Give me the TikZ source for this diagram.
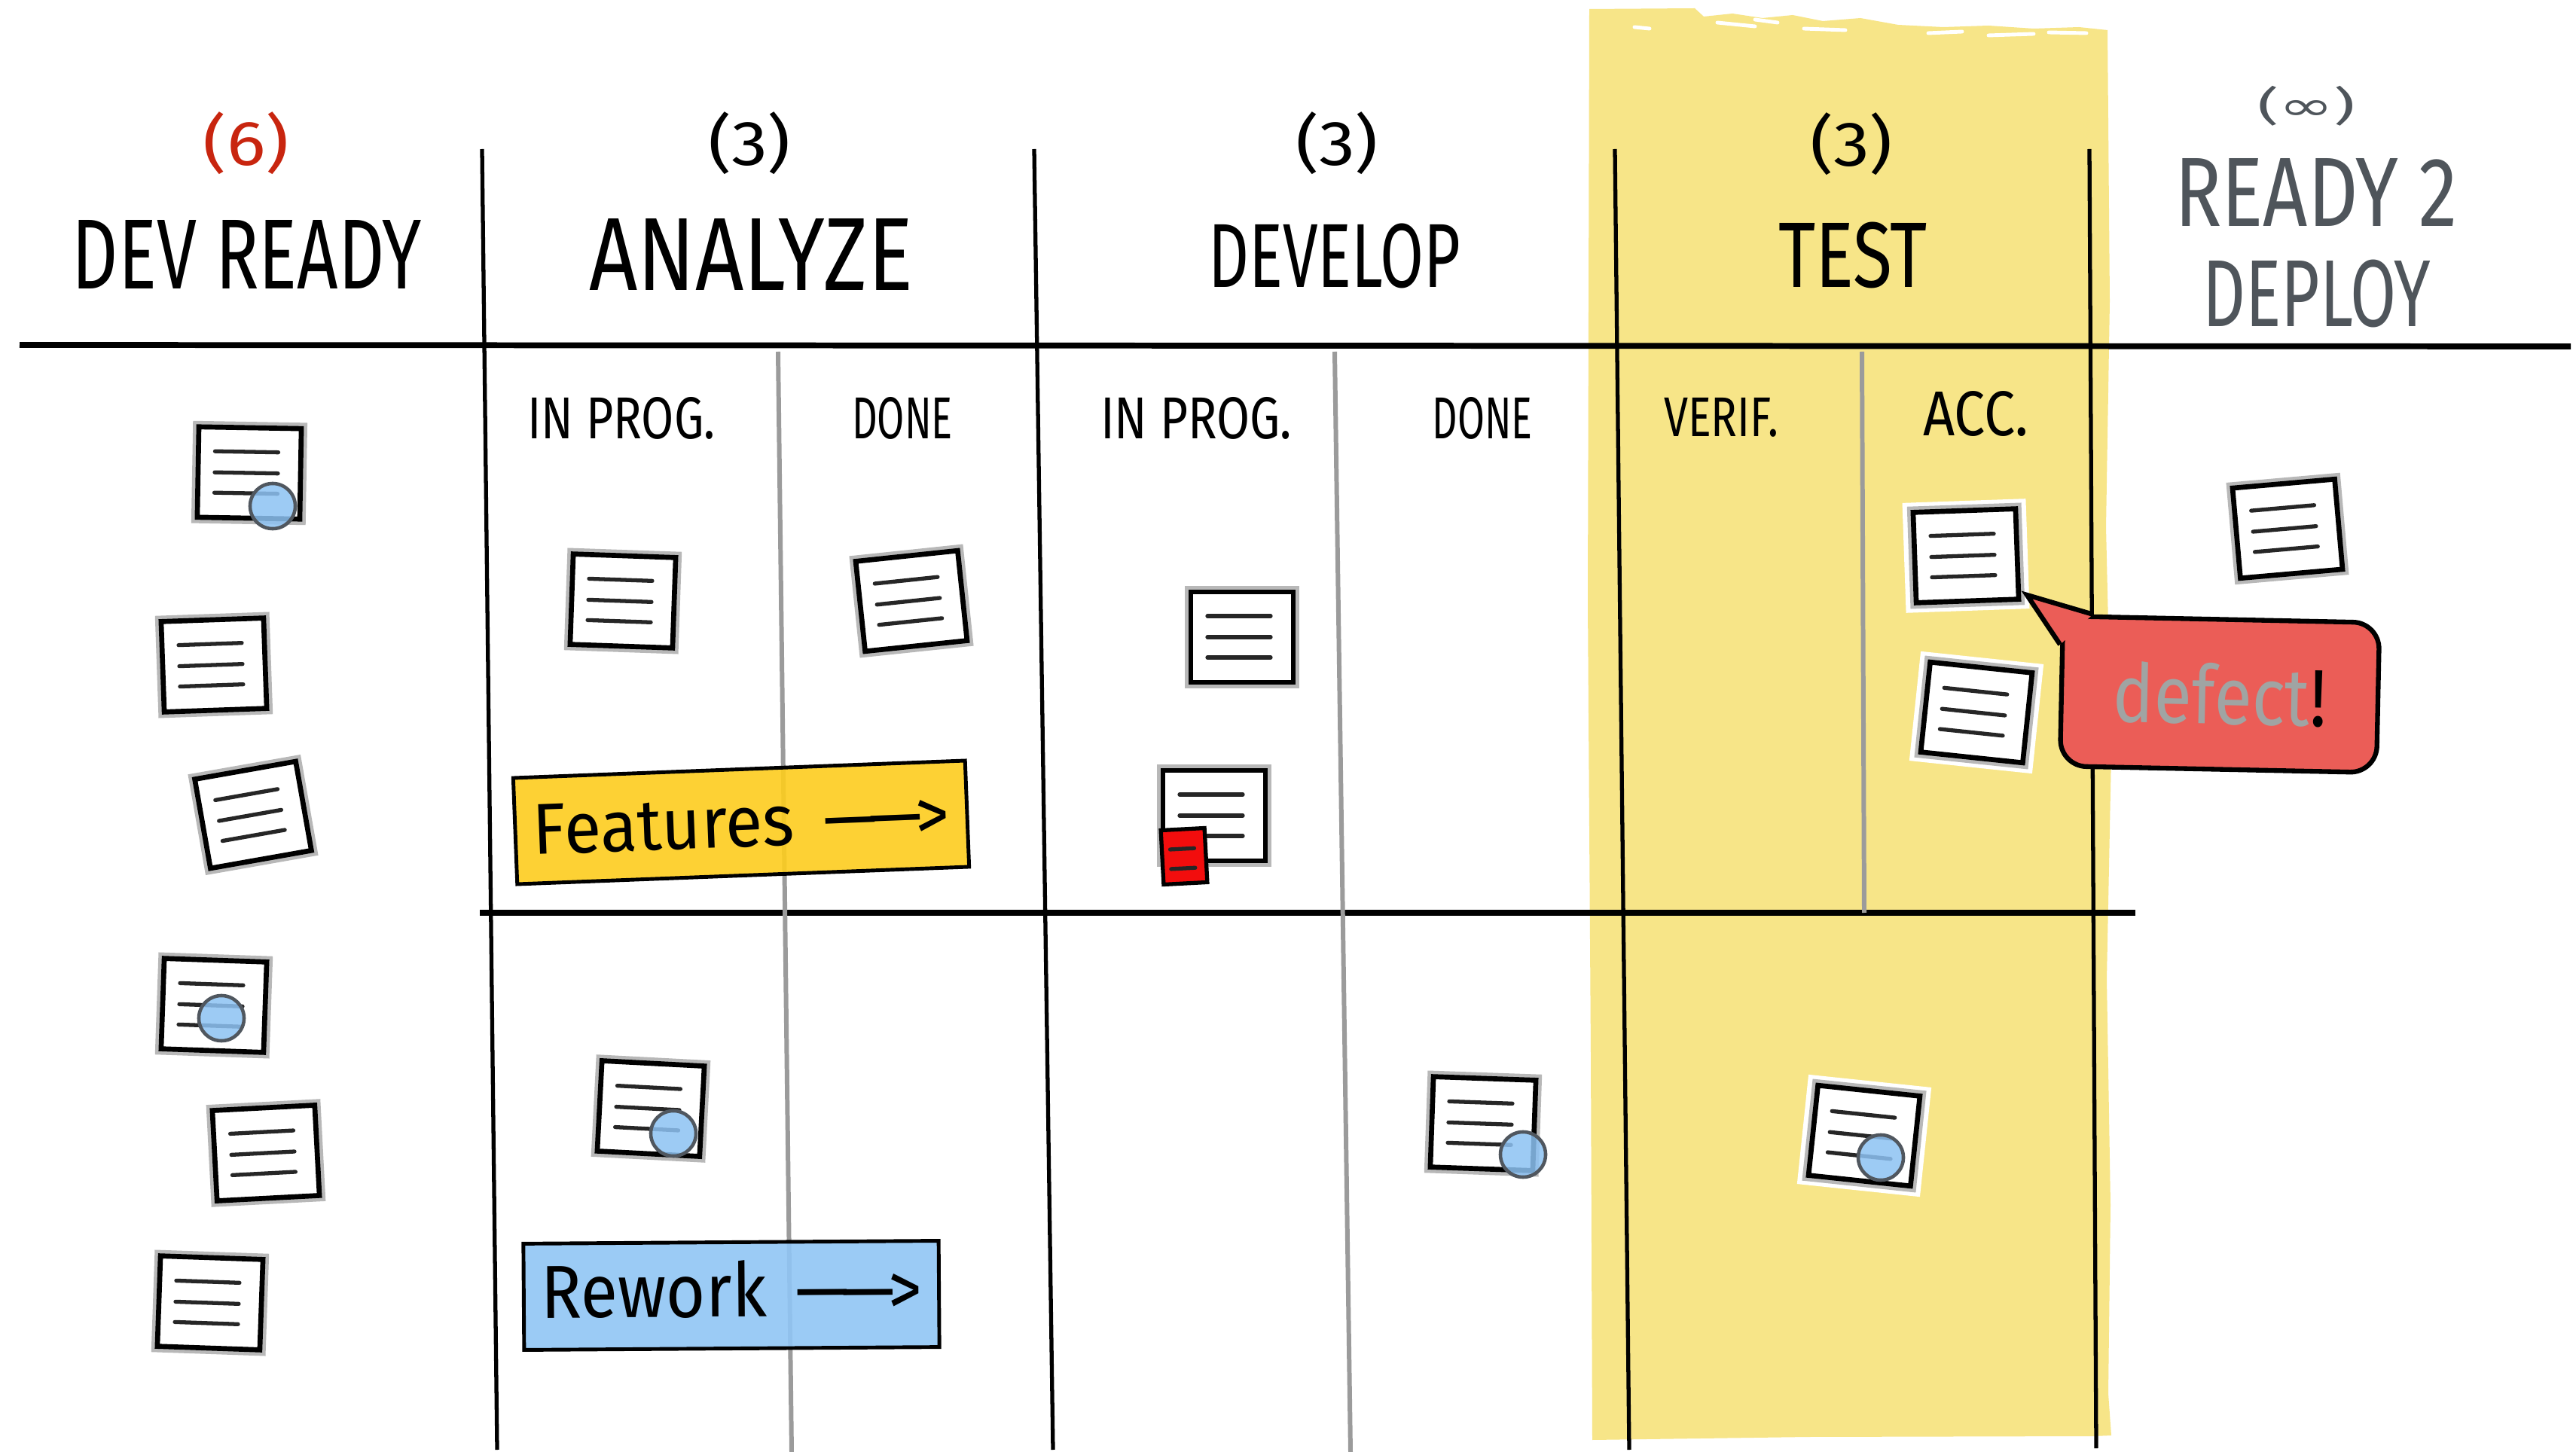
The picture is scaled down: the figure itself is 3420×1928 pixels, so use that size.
\documentclass[tikz,border=0pt]{standalone}
\usepackage{fontspec}
\usepackage{graphicx}
\usetikzlibrary{calc}
\newfontfamily\hand{Fira Sans}
\newfontfamily\symfont{DejaVu Sans}
\newlength\pxu \setlength\pxu{0.01cm}
% scale a text to a given width and total height (in 0.01cm units)
\newcommand\fitto[3]{\resizebox*{#1\pxu}{#2\pxu}{#3}}

\definecolor{bandyellow}{HTML}{F7E588}
\definecolor{tagyellow}{HTML}{FDCD1E}
\definecolor{tagblue}{HTML}{91C6F5}
\definecolor{dotblue}{HTML}{8DC2F3}
\definecolor{dotrim}{HTML}{50575F}
\definecolor{bubblered}{HTML}{EB5D57}
\definecolor{limitred}{HTML}{C8250F}
\definecolor{inkgray}{HTML}{4F555B}
\definecolor{subline}{HTML}{9B9B9B}
\definecolor{defgray}{HTML}{A0A4A3}
\definecolor{flagred}{HTML}{F20D0D}

\tikzset{
  rule/.style={line width=2.2pt, black},
  major/.style={line width=1.5pt, black},
  minor/.style={line width=1.7pt, subline},
  head/.style={inner sep=0pt, font=\hand},
  cardhalo/.style={draw=black!28, line width=4.5pt},
  cardbody/.style={draw=black, line width=1.9pt, fill=white, minimum width=1.36cm,
    minimum height=1.2cm, inner sep=0pt, transform shape},
  cardline/.style={black!85, line width=1.5pt, line cap=round},
  pin/.style={circle, minimum size=0.6cm, inner sep=0pt, fill=dotblue, fill opacity=0.85,
    draw=dotrim, line width=1.3pt},
  flagbody/.style={draw=black, line width=1.5pt, fill=flagred, minimum width=0.58cm,
    minimum height=0.72cm, inner sep=0pt, transform shape},
  tag/.style={draw=black, line width=1.4pt, fill opacity=0.9, text opacity=1,
    inner sep=0pt, font=\hand},
  bubblebox/.style={draw=black, line width=1.8pt, fill=bubblered, rounded corners=0.35cm,
    inner sep=0pt, font=\hand, minimum width=4.2cm, minimum height=1.99cm},
  card/.pic={
    \draw[cardhalo] (-68,-60) rectangle (68,60);
    \node[cardbody] (-b) at (0,0) {};
    \foreach \ly in {-28,0,27} \draw[cardline] (-46,\ly) -- (38,\ly);
  },
  heldcard/.pic={
    \fill[white] (-82,-73) rectangle (82,73);
    \draw[cardhalo] (-68,-60) rectangle (68,60);
    \node[cardbody] (-b) at (0,0) {};
    \foreach \ly in {-28,0,27} \draw[cardline] (-46,\ly) -- (38,\ly);
  },
  flag/.pic={
    \node[flagbody] (-b) at (0,0) {};
    \draw[cardline] (-18,-10) -- (14,-10);
    \draw[cardline] (-18,16) -- (14,16);
  },
}

\begin{document}
\begin{tikzpicture}[x=0.01cm, y=-0.01cm]
\useasboundingbox (0,0) rectangle (3420,1928);
\fill[white] (0,0) rectangle (3420,1928);

% TEST column highlight
\fill[bandyellow] (2110,12) -- (2250,11) -- (2262,22) -- (2300,18) -- (2340,24) -- (2380,20)
  -- (2420,28) -- (2470,24) -- (2520,33) -- (2580,36) -- (2640,34) -- (2700,38) -- (2760,36)
  -- (2798,40) -- (2801,400) -- (2796,700) -- (2803,1000) -- (2797,1300) -- (2802,1600)
  -- (2799,1850) -- (2803,1906) -- (2780,1907) -- (2400,1908) -- (2114,1912) -- (2112,1400)
  -- (2108,800) -- cycle;
\foreach \a/\b/\c/\d in {2170/36/2190/38, 2280/30/2330/35, 2395/38/2450/40, 2560/44/2605/42,
  2640/47/2700/45, 2720/43/2770/44, 2330/26/2360/30}
  \draw[white, line width=1.4pt, line cap=round] (\a,\b) -- (\c,\d);

% board rules
\draw[rule] (26,458) -- (3413,460);
\draw[rule] (637,1212) -- (2835,1212);
\draw[major] (640,198) -- (660,1925);
\draw[major] (1373,198) -- (1398,1925);
\draw[major] (2144,198) -- (2163,1925);
\draw[major] (2774,198) -- (2783,1923);
\draw[minor] (1033,467) -- (1051,1928);
\draw[minor] (1772,467) -- (1793,1928);
\draw[minor] (2472,467) -- (2475,1212);

% column headers
\node[head, text=limitred] (wip-dev) at (327,190) {\fitto{114}{83}{(6)}};
\node[head] (col-dev) at (328,338) {\fitto{464}{91}{DEV READY}};
\node[head] (wip-an) at (995,190) {\fitto{110}{83}{(3)}};
\node[head] (col-an) at (997,338) {\fitto{430}{95}{ANALYZE}};
\node[head] (wip-dv) at (1775,190) {\fitto{110}{83}{(3)}};
\node[head] (col-dv) at (1772,340) {\fitto{335}{86}{DEVELOP}};
\node[head] (wip-ts) at (2458,191) {\fitto{110}{83}{(3)}};
\node[head] (col-ts) at (2460,339) {\fitto{198}{88}{TEST}};
\node[head, text=inkgray] (wip-rd) at (3062,141) {\fitto{130}{53}{({\symfont ∞})}};
\node[head, text=inkgray] (col-rd1) at (3075,255) {\fitto{376}{90}{READY 2}};
\node[head, text=inkgray] (col-rd2) at (3076,390) {\fitto{303}{90}{DEPLOY}};

% sub-column headers
\node[head] (sub-an1) at (825,555) {\fitto{249}{56}{IN PROG.}};
\node[head] (sub-an2) at (1198,555) {\fitto{134}{56}{DONE}};
\node[head] (sub-dv1) at (1588,555) {\fitto{254}{56}{IN PROG.}};
\node[head] (sub-dv2) at (1968,555) {\fitto{133}{56}{DONE}};
\node[head] (sub-ts1) at (2285,554) {\fitto{152}{52}{VERIF.}};
\node[head] (sub-ts2) at (2623,550) {\fitto{140}{60}{ACC.}};

% swimlane tags
\node[tag, fill=tagyellow, rotate=2.2, minimum width=6cm, minimum height=1.41cm] (feat)
  at (984,1092) {\fitto{553}{67}{Features \,—\kern-0.12em—\kern-0.1em>}};
\node[tag, fill=tagblue, rotate=0.4, minimum width=5.51cm, minimum height=1.41cm] (rework)
  at (971,1720) {\raisebox{0.18cm}{\fitto{506}{76}{Rework \,—\kern-0.12em—\kern-0.1em>}}};

% work items
\pic[rotate=-1] (dr1) at (331,628) {card};
\pic[rotate=2] (dr2) at (284,883) {card};
\pic[rotate=10] (dr3) at (336,1082) {card};
\pic[rotate=-2] (dr4) at (284,1335) {card};
\pic[rotate=3] (dr5) at (353,1531) {card};
\pic[rotate=-2] (dr6) at (279,1730) {card};
\pic[rotate=-2] (an1) at (827,798) {card};
\pic[rotate=6] (an2) at (1210,798) {card};
\pic[rotate=-3] (an3) at (864,1472) {card};
\pic (dv1) at (1649,846) {card};
\pic (dv2) at (1612,1083) {card};
\pic[rotate=3] (dv2flag) at (1572,1137) {flag};
\pic[rotate=-2] (dv3) at (1969,1492) {card};
\pic[rotate=2] (ts1) at (2610,738) {heldcard};
\pic[rotate=-6] (ts2) at (2624,946) {heldcard};
\pic[rotate=-6] (ts3) at (2475,1508) {heldcard};
\pic[rotate=5] (rd1) at (3037,702) {card};

% blocker pins
\node[pin] (dr1-pin) at (362,672) {};
\node[pin] (dr4-pin) at (294,1352) {};
\node[pin] (an3-pin) at (894,1505) {};
\node[pin] (dv3-pin) at (2022,1533) {};
\node[pin] (ts3-pin) at (2497,1537) {};

% defect call-out
\node[bubblebox, rotate=-1.2] (defect) at (2947,922)
  {\fitto{284}{82}{{\color{defgray}defect}!}};
\coordinate (tip) at (2691,790);
\coordinate (tb1) at ($(defect.north west)!0.1!(defect.north east)$);
\coordinate (tb2) at ($(defect.north west)!0.2!(defect.south west)$);
\fill[bubblered] (tb1) -- (tip) -- (tb2) -- cycle;
\draw[black, line width=1.8pt, line join=miter] (tb1) -- (tip) -- (tb2);
\end{tikzpicture}
\end{document}
